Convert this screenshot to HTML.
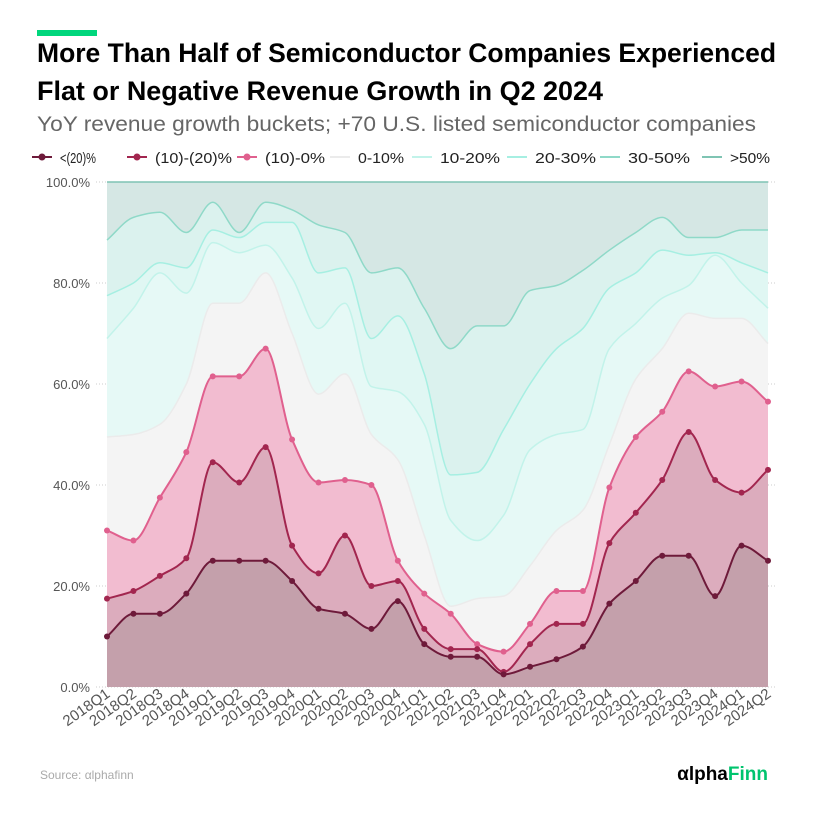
<!DOCTYPE html>
<html><head><meta charset="utf-8"><style>
html,body{margin:0;padding:0;background:#fff;}
svg{display:block;font-family:"Liberation Sans",sans-serif;}
</style></head><body>
<svg id="chart" width="816" height="814" viewBox="0 0 816 814">
<rect x="37" y="30" width="60" height="6" fill="#00d67c"/>
<text x="37" y="62" font-size="27" font-weight="bold" fill="#000" textLength="739" lengthAdjust="spacingAndGlyphs">More Than Half of Semiconductor Companies Experienced</text>
<text x="37" y="100" font-size="27" font-weight="bold" fill="#000" textLength="566" lengthAdjust="spacingAndGlyphs">Flat or Negative Revenue Growth in Q2 2024</text>
<text x="37" y="131" font-size="21" fill="#666" textLength="719" lengthAdjust="spacingAndGlyphs">YoY revenue growth buckets; +70 U.S. listed semiconductor companies</text>
<g id="legend"></g>
<g id="grid"></g>
<g id="areas"></g>
<g id="lines"></g>
<g id="yaxis"></g>
<g id="xaxis"></g>
<text x="40" y="779" font-size="12" fill="#aaa">Source: αlphafinn</text>
<text x="768" y="780" font-size="19" font-weight="bold" text-anchor="end"><tspan fill="#000">αlpha</tspan><tspan fill="#00c46e">Finn</tspan></text>
</svg>
<script>
const categories=["2018Q1","2018Q2","2018Q3","2018Q4","2019Q1","2019Q2","2019Q3","2019Q4","2020Q1","2020Q2","2020Q3","2020Q4","2021Q1","2021Q2","2021Q3","2021Q4","2022Q1","2022Q2","2022Q3","2022Q4","2023Q1","2023Q2","2023Q3","2023Q4","2024Q1","2024Q2"];
const seriesNames=["<(20)%","(10)-(20)%","(10)-0%","0-10%","10-20%","20-30%","30-50%",">50%"];
// cumulative values (%)
const s1=[10,14.5,14.5,18.5,25,25,25,21,15.5,14.5,11.5,17,8.5,6,6,2.5,4,5.5,8,16.5,21,26,26,18,28,25];
const s2=[17.5,19,22,25.5,44.5,40.5,47.5,28,22.5,30,20,21,11.5,7.5,7.5,3,8.5,12.5,12.5,28.5,34.5,41,50.5,41,38.5,43];
const s3=[31,29,37.5,46.5,61.5,61.5,67,49,40.5,41,40,25,18.5,14.5,8.5,7,12.5,19,19,39.5,49.5,54.5,62.5,59.5,60.5,56.5];
const s4=[49.5,50,52,60,76,76,82,70,58,62,50,45,30,16,17.5,18,24,31,35,48,61,67,74,73,73,68];
const s5=[69,75,82,78,88,86,87.5,81,71,76,59.5,58.5,52,33,29,34,47,50,51,67,72,77,79.5,85.5,80,75];
const s6=[77.5,80,84,83,90.5,89,92,92,82,83,69,73.5,62,42,42.5,51,60,67,71,79,82,86.5,85.5,86,84,82];
const s7=[88.5,93,94,90,96,90,96,94.5,91.5,90,82,83,75,67,71.5,71.5,78.5,79.5,82.5,86.5,90,93,89,89,90.5,90.5];
const s8=[100,100,100,100,100,100,100,100,100,100,100,100,100,100,100,100,100,100,100,100,100,100,100,100,100,100];
const yTicks=[0,20,40,60,80,100];

const series=[s1,s2,s3,s4,s5,s6,s7,s8];
const fills=["#c4a0ab","#dcacbd","#f2bcd0","#f4f4f4","#e6f9f6","#e0f7f3","#dbf2ee","#d5e7e4"];
const strokes=["#6e1a3a","#a2264f","#e0608e","#ebebeb","#c2f3ea","#a6efe2","#8fd9c8","#7fc4b3"];
const markers=[true,true,true,false,false,false,false,false];
const X0=107,X1=768,Y0=687,Y1=182;
const xs=i=>X0+(X1-X0)*i/(categories.length-1);
const ys=v=>Y0-(Y0-Y1)*v/100;
const NS="http://www.w3.org/2000/svg";
function mk(tag,attrs,parent){const e=document.createElementNS(NS,tag);for(const k in attrs)e.setAttribute(k,attrs[k]);parent.appendChild(e);return e;}
function monotone(pts){
  const n=pts.length;const dx=[],m=[],t=[];
  for(let i=0;i<n-1;i++){dx.push(pts[i+1][0]-pts[i][0]);m.push((pts[i+1][1]-pts[i][1])/dx[i]);}
  t[0]=m[0];t[n-1]=m[n-2];
  for(let i=1;i<n-1;i++){ if(m[i-1]*m[i]<=0)t[i]=0; else { const h0=dx[i-1],h1=dx[i];t[i]=3*(h0+h1)/((2*h1+h0)/m[i-1]+(h1+2*h0)/m[i]); } }
  let d="";
  for(let i=0;i<n-1;i++){const h=dx[i]/3;d+=" C"+(pts[i][0]+h)+","+(pts[i][1]+t[i]*h)+" "+(pts[i+1][0]-h)+","+(pts[i+1][1]-t[i+1]*h)+" "+pts[i+1][0]+","+pts[i+1][1];}
  return d;
}
const areas=document.getElementById('areas'),lines=document.getElementById('lines');
for(let k=series.length-1;k>=0;k--){
  const pts=series[k].map((v,i)=>[xs(i),ys(v)]);
  const c=monotone(pts);
  const a=mk('path',{d:"M"+pts[0][0]+","+Y0+" L"+pts[0][0]+","+pts[0][1]+c+" L"+pts[pts.length-1][0]+","+Y0+" Z",fill:fills[k]},areas);
  
  
}
for(let k=series.length-1;k>=0;k--){
  const pts=series[k].map((v,i)=>[xs(i),ys(v)]);
  const l=mk('path',{d:"M"+pts[0][0]+","+pts[0][1]+monotone(pts),fill:"none",stroke:strokes[k],"stroke-width":k<3?2:1.5},lines);
  
  
  if(markers[k]) pts.forEach(p=>{
    const c=mk('circle',{cx:p[0],cy:p[1],r:3,fill:strokes[k]},lines);
    
    
  });
}
const grid=document.getElementById('grid'),ya=document.getElementById('yaxis');
yTicks.forEach(t=>{
  mk('line',{x1:96,x2:775,y1:ys(t),y2:ys(t),stroke:"#ccc","stroke-dasharray":"1 2"},grid);
  const tx=mk('text',{x:90,y:ys(t)+5,"font-size":13,fill:"#555","text-anchor":"end"},ya);
  tx.textContent=t.toFixed(1)+"%";
  
  
});
const xa=document.getElementById('xaxis');
categories.forEach((c,i)=>{
  const x=xs(i)+4,y=696;
  const tx=mk('text',{x:x,y:y,"font-size":15,fill:"#555","text-anchor":"end",transform:"rotate(-35 "+x+" "+y+")"},xa);
  tx.textContent=c;
  
  
});
const lg=document.getElementById('legend');
const lx=[60,155,265,358,440,535,628,730];
const lw=[36,77,60,46,60,61,62,40];
seriesNames.forEach((n,k)=>{
  const g=mk('g',{},lg);
  
  
  const x=lx[k]-28;
  mk('line',{x1:x,x2:x+20,y1:157,y2:157,stroke:strokes[k],"stroke-width":2},g);
  if(markers[k]) mk('circle',{cx:x+10,cy:157,r:3.5,fill:strokes[k]},g);
  const t=mk('text',{x:lx[k],y:163,"font-size":15,fill:"#222",textLength:lw[k],lengthAdjust:"spacingAndGlyphs"},g);
  t.textContent=n;
});
</script>
</body></html>
